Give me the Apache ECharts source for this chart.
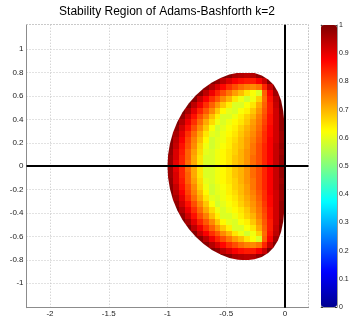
<!DOCTYPE html>
<html>
<head>
<meta charset="utf-8">
<script src="https://cdn.jsdelivr.net/npm/echarts@6/dist/echarts.min.js"></script>
<style>
  html, body { margin: 0; padding: 0; background: #fff; }
  #chart { width: 363px; height: 327px; }
</style>
</head>
<body>
<div id="chart"></div>
<script>
// sampling step of the map (complex plane units)
const cellStep = 0.05;

// upper half of the region, the lower half is its mirror image
// (each row starts and ends with one rim cell that the boundary cuts)
const rowY = [0.025, 0.075, 0.125, 0.175, 0.225, 0.275, 0.325, 0.375,
  0.425, 0.475, 0.525, 0.575, 0.625, 0.675, 0.725, 0.775];
const rowFirstX = [-1.025, -1.025, -1.025, -1.025, -0.975, -0.975, -0.975, -0.925,
  -0.925, -0.875, -0.875, -0.825, -0.775, -0.725, -0.625, -0.525];
const rowValues = [
  [1.00, 0.97, 0.90, 0.84, 0.77, 0.71, 0.65, 0.59, 0.59, 0.61, 0.63, 0.65, 0.68, 0.70, 0.73, 0.77, 0.80, 0.84, 0.88, 0.93, 0.98, 1.00],
  [1.00, 0.97, 0.91, 0.84, 0.78, 0.71, 0.65, 0.59, 0.59, 0.61, 0.63, 0.65, 0.68, 0.70, 0.73, 0.77, 0.80, 0.84, 0.88, 0.93, 0.98, 1.00],
  [1.00, 0.98, 0.91, 0.85, 0.78, 0.72, 0.66, 0.60, 0.59, 0.61, 0.63, 0.65, 0.67, 0.70, 0.73, 0.76, 0.80, 0.84, 0.88, 0.93, 0.97, 1.00],
  [1.00, 0.99, 0.93, 0.86, 0.80, 0.74, 0.67, 0.61, 0.58, 0.60, 0.62, 0.64, 0.67, 0.69, 0.72, 0.76, 0.80, 0.84, 0.88, 0.93, 0.98, 1.00],
  [1.00, 0.94, 0.88, 0.81, 0.75, 0.69, 0.63, 0.58, 0.60, 0.61, 0.64, 0.66, 0.69, 0.72, 0.75, 0.79, 0.83, 0.88, 0.92, 0.97, 1.00],
  [1.00, 0.96, 0.90, 0.83, 0.77, 0.71, 0.65, 0.60, 0.59, 0.61, 0.63, 0.65, 0.68, 0.71, 0.74, 0.78, 0.83, 0.87, 0.92, 0.97, 1.00],
  [1.00, 0.98, 0.92, 0.86, 0.80, 0.74, 0.68, 0.62, 0.58, 0.60, 0.62, 0.64, 0.67, 0.70, 0.73, 0.77, 0.82, 0.87, 0.92, 0.98, 1.00],
  [1.00, 0.95, 0.89, 0.83, 0.77, 0.71, 0.66, 0.61, 0.59, 0.61, 0.63, 0.65, 0.68, 0.72, 0.76, 0.81, 0.86, 0.92, 0.98, 1.00],
  [1.00, 0.98, 0.92, 0.86, 0.80, 0.75, 0.69, 0.64, 0.59, 0.59, 0.61, 0.64, 0.67, 0.70, 0.75, 0.80, 0.86, 0.92, 0.98, 1.00],
  [1.00, 0.96, 0.90, 0.84, 0.79, 0.74, 0.68, 0.63, 0.60, 0.59, 0.62, 0.64, 0.68, 0.73, 0.79, 0.85, 0.92, 0.99, 1.00],
  [1.00, 1.00, 0.94, 0.89, 0.83, 0.78, 0.73, 0.68, 0.64, 0.59, 0.59, 0.62, 0.65, 0.71, 0.78, 0.85, 0.93, 1.00],
  [1.00, 0.99, 0.93, 0.88, 0.83, 0.79, 0.74, 0.70, 0.65, 0.61, 0.58, 0.61, 0.67, 0.77, 0.86, 0.94, 1.00],
  [1.00, 0.99, 0.94, 0.89, 0.84, 0.80, 0.76, 0.72, 0.69, 0.65, 0.62, 0.59, 0.78, 0.88, 0.97, 1.00],
  [1.00, 0.99, 0.95, 0.91, 0.87, 0.83, 0.80, 0.77, 0.75, 0.74, 0.76, 0.84, 0.93, 1.00],
  [1.00, 0.98, 0.94, 0.91, 0.88, 0.86, 0.85, 0.85, 0.88, 0.93, 1.00],
  [1.00, 0.99, 0.96, 0.95, 0.94, 0.95, 0.98, 1.00]
];

// outline of the region (upper half, from the left tip round to the origin)
const edgeX = [-1, -0.995, -0.979, -0.953, -0.917, -0.872, -0.818, -0.758, -0.692,
  -0.622, -0.549, -0.474, -0.4, -0.328, -0.26, -0.198, -0.143, -0.097, -0.06,
  -0.033, -0.015, -0.005, -0.001, 0, 0];
const edgeY = [0, 0.098, 0.194, 0.288, 0.377, 0.461, 0.538, 0.606, 0.666,
  0.716, 0.755, 0.784, 0.8, 0.804, 0.796, 0.776, 0.742, 0.696, 0.635,
  0.561, 0.472, 0.37, 0.255, 0.13, 0];

const xTicks = [-2, -1.5, -1, -0.5, 0];
const yTicks = [-1, -0.8, -0.6, -0.4, -0.2, 0, 0.2, 0.4, 0.6, 0.8, 1];

const jet = ["#00008f", "#0000ff", "#0080ff", "#00ffff", "#80ff80",
  "#ffff00", "#ff8000", "#ff0000", "#800000"];

const cells = [];
rowY.forEach((y, i) => {
  rowValues[i].forEach((v, j) => {
    const x = +(rowFirstX[i] + j * cellStep).toFixed(3);
    cells.push([x, y, v]);
    cells.push([x, -y, v]);
  });
});

// closed outline: upper half, then the mirrored lower half
const outline = edgeX.map((x, i) => [x, edgeY[i]]);
for (let i = edgeX.length - 2; i > 0; i--) outline.push([edgeX[i], -edgeY[i]]);

const font = "Liberation Sans, Arial, Helvetica, sans-serif";
const chart = echarts.init(document.getElementById("chart"));

chart.setOption({
  backgroundColor: "#fff",
  animation: false,
  title: {
    text: "Stability Region of Adams-Bashforth k=2",
    left: 167,
    top: 6,
    textAlign: "center",
    padding: 0,
    textStyle: { fontFamily: font, fontSize: 12, fontWeight: "normal", color: "#000" }
  },
  grid: [
    { left: 26.5, top: 24.7, width: 282, height: 283 },
    { left: 321, top: 25, width: 16, height: 282 }
  ],
  xAxis: [
    {
      gridIndex: 0, type: "value", min: -2.2, max: 0.2, position: "bottom",
      axisLine: { show: true, onZero: false, lineStyle: { color: "#8c8c8c" } },
      axisTick: { show: false, customValues: xTicks },
      axisLabel: { customValues: xTicks, fontFamily: font, fontSize: 8, color: "#222", margin: 2 },
      splitLine: { show: true, lineStyle: { color: "#c4c4c4", type: [1, 2] } }
    },
    {
      gridIndex: 0, type: "value", min: -2.2, max: 0.2, position: "top",
      axisLine: { show: true, onZero: false, lineStyle: { color: "#c4c4c4", type: [1, 2] } },
      axisTick: { show: false }, axisLabel: { show: false }, splitLine: { show: false }
    },
    {
      gridIndex: 1, type: "value", min: 0, max: 1, position: "bottom",
      axisLine: { show: true, onZero: false, lineStyle: { color: "#9a9a9a" } },
      axisTick: { show: false }, axisLabel: { show: false }, splitLine: { show: false }
    },
    {
      gridIndex: 1, type: "value", min: 0, max: 1, position: "top",
      axisLine: { show: true, onZero: false, lineStyle: { color: "#9a9a9a" } },
      axisTick: { show: false }, axisLabel: { show: false }, splitLine: { show: false }
    }
  ],
  yAxis: [
    {
      gridIndex: 0, type: "value", min: -1.21, max: 1.21, position: "left",
      axisLine: { show: true, onZero: false, lineStyle: { color: "#8c8c8c" } },
      axisTick: { show: false, customValues: yTicks },
      axisLabel: { customValues: yTicks, fontFamily: font, fontSize: 8, color: "#222", margin: 3 },
      splitLine: { show: true, lineStyle: { color: "#c4c4c4", type: [1, 2] } }
    },
    {
      gridIndex: 0, type: "value", min: -1.21, max: 1.21, position: "right",
      axisLine: { show: true, onZero: false, lineStyle: { color: "#c4c4c4", type: [1, 2] } },
      axisTick: { show: false }, axisLabel: { show: false }, splitLine: { show: false }
    },
    {
      gridIndex: 1, type: "value", min: 0, max: 1, interval: 0.1, position: "left",
      axisLine: { show: true, onZero: false, lineStyle: { color: "#9a9a9a" } },
      axisTick: { show: true, inside: true, length: 2, lineStyle: { color: "#333" } },
      axisLabel: { show: false }, splitLine: { show: false }
    },
    {
      gridIndex: 1, type: "value", min: 0, max: 1, interval: 0.1, position: "right",
      axisLine: { show: true, onZero: false, lineStyle: { color: "#9a9a9a" } },
      axisTick: { show: true, inside: true, length: 2, lineStyle: { color: "#333" } },
      axisLabel: { fontFamily: font, fontSize: 7, color: "#222", margin: 2 },
      splitLine: { show: false }
    }
  ],
  visualMap: {
    type: "continuous",
    min: 0,
    max: 1,
    dimension: 2,
    seriesIndex: 0,
    calculable: false,
    hoverLink: false,
    left: 321,
    top: 25,
    itemWidth: 16,
    itemHeight: 282,
    padding: 0,
    inRange: { color: jet },
    textStyle: { color: "transparent" }
  },
  series: [
    {
      type: "custom",
      xAxisIndex: 0,
      yAxisIndex: 0,
      data: cells,
      encode: { x: 0, y: 1 },
      renderItem: function (params, api) {
        if (!params.context.clip) {
          params.context.clip = outline.map((p) => api.coord(p));
        }
        const x = api.value(0);
        const y = api.value(1);
        const a = api.coord([x - cellStep / 2, y + cellStep / 2]);
        const b = api.coord([x + cellStep / 2, y - cellStep / 2]);
        const x0 = Math.round(a[0]), y0 = Math.round(a[1]);
        const x1 = Math.round(b[0]), y1 = Math.round(b[1]);
        return {
          type: "rect",
          shape: { x: x0, y: y0, width: x1 - x0, height: y1 - y0 },
          style: { fill: api.visual("color") },
          clipPath: { type: "polygon", shape: { points: params.context.clip } }
        };
      },
      markLine: {
        silent: true,
        symbol: ["none", "none"],
        label: { show: false },
        lineStyle: { color: "#000", width: 2, type: "solid" },
        data: [{ xAxis: 0 }, { yAxis: 0 }]
      }
    }
  ]
});
</script>
</body>
</html>
